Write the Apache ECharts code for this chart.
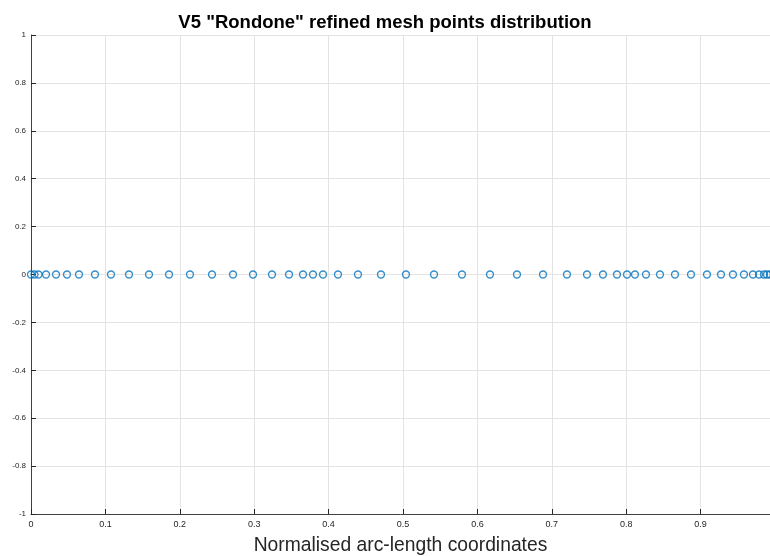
<!DOCTYPE html>
<html>
<head>
<meta charset="utf-8">
<script src="https://cdn.jsdelivr.net/npm/echarts@6/dist/echarts.min.js"></script>
<style>
  html, body { margin: 0; padding: 0; background: #fff; }
  #chart { width: 770px; height: 556px; }
</style>
</head>
<body>
<div id="chart"></div>
<script>
// Normalised arc-length position of each refined mesh point
const meshPoints = [
  0, 0.0047, 0.0101, 0.0202, 0.0336, 0.0484, 0.0645, 0.0860, 0.1075, 0.1317,
  0.1586, 0.1855, 0.2137, 0.2433, 0.2715, 0.2984, 0.3239, 0.3468, 0.3656, 0.3790,
  0.3925, 0.4126, 0.4395, 0.4704, 0.5040, 0.5417, 0.5793, 0.6169, 0.6532, 0.6882,
  0.7204, 0.7473, 0.7688, 0.7876, 0.8011, 0.8118, 0.8266, 0.8454, 0.8656, 0.8871,
  0.9086, 0.9274, 0.9435, 0.9583, 0.9704, 0.9785, 0.9852, 0.9892, 0.9933
];
// All points lie on the zero line
const meshLevel = meshPoints.map(() => 0);

const titleText = 'V5 "Rondone" refined mesh points distribution';
const xName = 'Normalised arc-length coordinates';

const chart = echarts.init(document.getElementById('chart'), null, { renderer: 'canvas' });

const axisCommon = {
  axisLine: { show: true, onZero: false, lineStyle: { color: '#404040', width: 1 } },
  axisTick: { show: true, inside: true, length: 5, lineStyle: { color: '#262626', width: 1 } },
  splitLine: { show: true, lineStyle: { color: '#e3e3e3', width: 1 } },
  axisLabel: { color: '#262626', fontFamily: 'Liberation Sans', fontSize: 9 }
};

chart.setOption({
  animation: false,
  backgroundColor: '#ffffff',
  title: {
    text: titleText,
    left: 'center',
    top: 8,
    textStyle: { fontFamily: 'Liberation Sans', fontWeight: 'bold', fontSize: 18.5, color: '#000' }
  },
  grid: { left: 31, right: 0, top: 35, bottom: 42, containLabel: false, outerBoundsMode: 'none' },
  xAxis: Object.assign({}, axisCommon, {
    type: 'value',
    min: 0,
    max: 0.9933,
    interval: 0.1,
    name: xName,
    nameLocation: 'middle',
    nameGap: 22,
    nameTextStyle: { fontFamily: 'Liberation Sans', fontSize: 19.3, color: '#262626' },
    axisLabel: Object.assign({}, axisCommon.axisLabel, {
      margin: 6,
      showMaxLabel: false,
      formatter: v => String(Math.round(v * 10) / 10)
    })
  }),
  yAxis: Object.assign({}, axisCommon, {
    type: 'value',
    min: -1,
    max: 1,
    interval: 0.2,
    axisLabel: Object.assign({}, axisCommon.axisLabel, {
      fontSize: 8,
      margin: 5,
      formatter: v => String(Math.round(v * 10) / 10)
    })
  }),
  series: [{
    type: 'scatter',
    data: meshPoints.map((x, i) => [x, meshLevel[i]]),
    symbol: 'circle',
    symbolSize: 7,
    clip: false,
    itemStyle: { color: 'rgba(0,0,0,0)', borderColor: '#0072BD', borderWidth: 1.3 }
  }]
});
</script>
</body>
</html>
